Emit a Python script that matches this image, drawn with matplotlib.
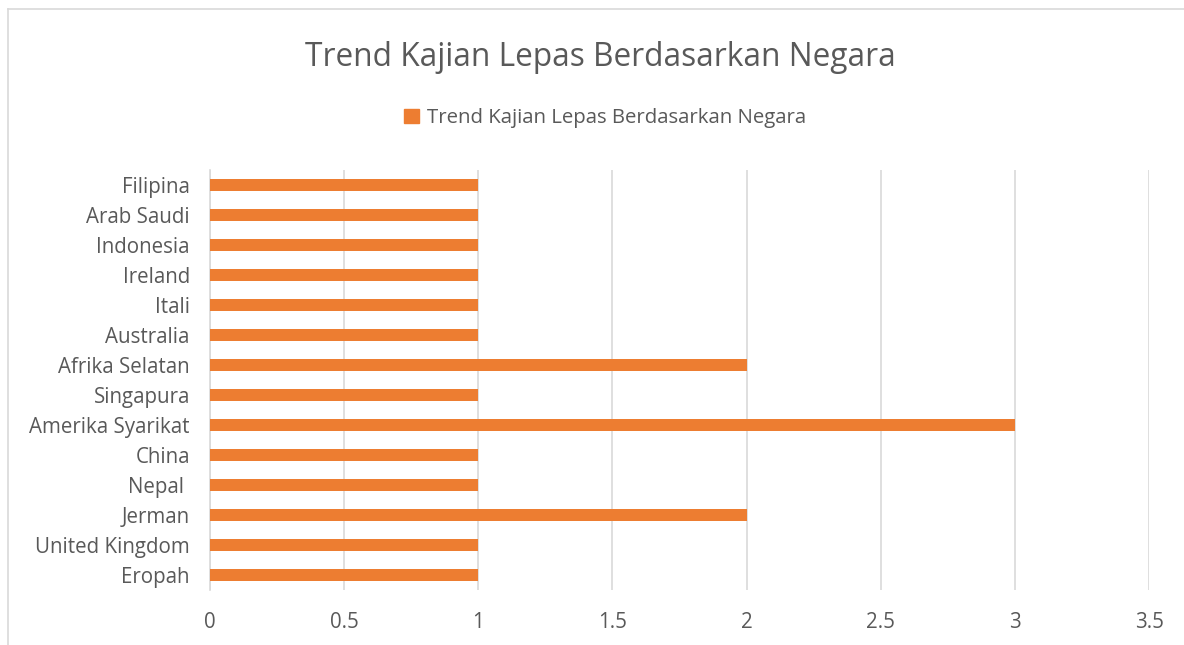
import matplotlib.pyplot as plt
from matplotlib.lines import Line2D
from matplotlib.patches import Patch

plt.rcParams['font.family'] = ['Open Sans', 'DejaVu Sans']

countries = ["Eropah", "United Kingdom", "Jerman", "Nepal ", "China", "Amerika Syarikat",
             "Singapura", "Afrika Selatan", "Australia", "Itali", "Ireland", "Indonesia",
             "Arab Saudi", "Filipina"]
counts = [1, 1, 2, 1, 1, 3, 1, 2, 1, 1, 1, 1, 1, 1]
xticks = [0, 0.5, 1, 1.5, 2, 2.5, 3, 3.5]
title = "Trend Kajian Lepas Berdasarkan Negara"

text_col = "#595959"
bar_col = "#ED7D31"

fig = plt.figure(figsize=(11.84, 6.45), dpi=100)
W, H = 1184, 645
ax = fig.add_axes([210 / W, 1 - 590 / H, (1149 - 210) / W, (590 - 170) / H])

ypos = list(range(len(countries)))
ax.barh(ypos, counts, height=0.4, color=bar_col, zorder=3)
ax.set_xlim(0, 3.5)
ax.set_ylim(-0.5, len(countries) - 0.5)
ax.set_xticks(xticks)
ax.set_xticklabels([f"{t:g}" for t in xticks])
ax.set_yticks(ypos)
ax.set_yticklabels(countries)
ax.tick_params(axis='both', length=0, labelsize=14.8, colors=text_col)
ax.tick_params(axis='x', pad=16)
ax.tick_params(axis='y', pad=14.5)
ax.grid(axis='x', color='#d9d9d9', linewidth=1.2, zorder=0)
for s in ['top', 'right', 'bottom']:
    ax.spines[s].set_visible(False)
ax.spines['left'].set_color('#d9d9d9')
ax.spines['left'].set_linewidth(1.2)

fig.text(600 / W, 1 - 57 / H, title, ha='center', va='center', fontsize=22.8, color=text_col)
fig.legend(handles=[Patch(color=bar_col, label=title)], loc='center',
           bbox_to_anchor=(605 / W, 1 - 118 / H), frameon=False, fontsize=14.7,
           labelcolor=text_col, handlelength=0.7, handleheight=0.7, handletextpad=0.4)

# chart border (top and left visible)
fig.add_artist(Line2D([8 / W, 1], [1 - 9 / H, 1 - 9 / H], color='#d9d9d9', lw=1.2))
fig.add_artist(Line2D([8 / W, 8 / W], [0, 1 - 9 / H], color='#d9d9d9', lw=1.2))

fig.savefig("out.png", dpi=100)
